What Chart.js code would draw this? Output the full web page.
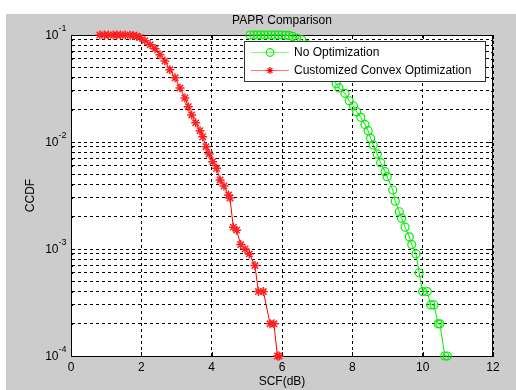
<!DOCTYPE html>
<html>
<head>
<meta charset="utf-8">
<title>PAPR Comparison</title>
<script src="https://cdn.jsdelivr.net/npm/chart.js"></script>
<style>
  html, body { margin: 0; padding: 0; background: #fff; }
  #wrap { width: 516px; height: 390px; }
</style>
</head>
<body>
<div id="wrap"><canvas id="papr" width="516" height="390"></canvas></div>
<script>
// values: x = SCF in dB, y = CCDF
const convexX = [0.82, 0.95, 1.06, 1.2, 1.3, 1.41, 1.54, 1.68, 1.77, 1.87, 1.96,
  2.1, 2.25, 2.39, 2.53, 2.67, 2.81, 2.96, 3.1, 3.24, 3.335, 3.43, 3.545, 3.67,
  3.745, 3.84, 3.93, 4.03, 4.14, 4.24, 4.35, 4.48, 4.52, 4.615, 4.71, 4.825,
  4.95, 5.07, 5.23, 5.33, 5.47, 5.66, 5.77, 5.87, 5.92];
const convexY = [0.1, 0.1, 0.1, 0.1, 0.1, 0.1, 0.0999, 0.0995, 0.099, 0.0975, 0.095,
  0.0885, 0.081, 0.0745, 0.0655, 0.057, 0.0474, 0.0398, 0.032, 0.0258, 0.0214, 0.0179, 0.0151, 0.01276,
  0.0112, 0.00904, 0.00773, 0.00655, 0.00568, 0.00442, 0.00388, 0.0032, 0.003, 0.0016, 0.0015, 0.0011,
  0.001, 0.0009, 0.0007, 0.0004, 0.0004, 0.0002, 0.0002, 0.0001, 0.0001];

// part of this curve sits under the legend box, those points are estimates
const noOptX = [5.09, 5.2, 5.3, 5.4, 5.5, 5.6, 5.7, 5.8, 5.9, 6.0, 6.1, 6.2, 6.3, 6.42, 6.56,
  6.72, 6.86, 7.0, 7.14, 7.28, 7.43, 7.54, 7.62, 7.79, 7.91, 8.03, 8.12, 8.24, 8.36,
  8.45, 8.52, 8.595, 8.71, 8.805, 8.93, 8.99, 9.15, 9.22, 9.335, 9.4, 9.5, 9.62, 9.69,
  9.81, 9.9, 10.0, 10.13, 10.23, 10.32, 10.44, 10.49, 10.63, 10.7];
const noOptY = [0.1, 0.1, 0.1, 0.1, 0.1, 0.1, 0.1, 0.1, 0.1, 0.1, 0.0995, 0.099, 0.097, 0.0937, 0.0903,
  0.081, 0.0745, 0.0655, 0.057, 0.0474, 0.0398, 0.035, 0.032, 0.0285, 0.0243, 0.0217, 0.0192, 0.017, 0.0146,
  0.01276, 0.01083, 0.00938, 0.00773, 0.00641, 0.00528, 0.00474, 0.00356, 0.0028, 0.00223, 0.00194, 0.0016, 0.0013, 0.0011,
  0.0009, 0.0006, 0.0004, 0.0004, 0.0003, 0.0003, 0.0002, 0.0002, 0.0001, 0.0001];

const xTicks = [0, 2, 4, 6, 8, 10, 12];
const yGrid = [0.0001, 0.0002, 0.0003, 0.0004, 0.0005, 0.0006, 0.0007, 0.0008, 0.0009,
  0.001, 0.002, 0.003, 0.004, 0.005, 0.006, 0.007, 0.008, 0.009,
  0.01, 0.02, 0.03, 0.04, 0.05, 0.06, 0.07, 0.08, 0.09, 0.1];
const yMajor = [0.0001, 0.001, 0.01, 0.1];
const yExp = ["-4", "-3", "-2", "-1"];

const titleText = "PAPR Comparison";
const seriesNames = ["No Optimization", "Customized Convex Optimization"];

const FONT = "'Liberation Sans', Arial, sans-serif";
Chart.defaults.font.family = FONT;
Chart.defaults.color = "#000";

const toPoints = (xs, ys) => xs.map((x, i) => ({ x: x, y: ys[i] }));

// grey figure, white axes
const figureBg = {
  id: "figureBg",
  beforeDraw(chart) {
    const { ctx, chartArea: a } = chart;
    ctx.save();
    ctx.fillStyle = "#fff";
    ctx.fillRect(0, 0, chart.width, chart.height);
    ctx.fillStyle = "#cccccc";
    ctx.fillRect(6, 14, chart.width - 6, chart.height - 14);
    ctx.fillStyle = "#fff";
    ctx.fillRect(a.left, a.top, a.right - a.left, a.bottom - a.top);
    ctx.restore();
  }
};

// top/right box lines and inward ticks like matlab
const axesBox = {
  id: "axesBox",
  beforeDatasetsDraw(chart) {
    const { ctx, chartArea: a, scales } = chart;
    ctx.save();
    ctx.strokeStyle = "#000";
    ctx.lineWidth = 1;
    ctx.beginPath();
    ctx.moveTo(a.left, a.top + 0.5);
    ctx.lineTo(a.right, a.top + 0.5);
    ctx.moveTo(a.right - 0.5, a.top);
    ctx.lineTo(a.right - 0.5, a.bottom);
    xTicks.forEach(v => {
      const px = Math.round(scales.x.getPixelForValue(v)) + 0.5;
      ctx.moveTo(px, a.bottom); ctx.lineTo(px, a.bottom - 4);
      ctx.moveTo(px, a.top); ctx.lineTo(px, a.top + 4);
    });
    yGrid.forEach(v => {
      const py = Math.round(scales.y.getPixelForValue(v)) + 0.5;
      const len = yMajor.includes(v) ? 4 : 2;
      ctx.moveTo(a.left, py); ctx.lineTo(a.left + len, py);
      ctx.moveTo(a.right, py); ctx.lineTo(a.right - len, py);
    });
    ctx.stroke();
    ctx.restore();
  }
};

// title, 10^n labels and the legend box inside the axes
const overlay = {
  id: "overlay",
  afterDraw(chart) {
    const { ctx, chartArea: a, scales } = chart;
    ctx.save();
    ctx.fillStyle = "#000";

    ctx.font = "12px " + FONT;
    ctx.textAlign = "center";
    ctx.textBaseline = "middle";
    ctx.fillText(titleText, (a.left + a.right) / 2, 21);

    yMajor.forEach((v, i) => {
      const py = scales.y.getPixelForValue(v);
      ctx.font = "12px " + FONT;
      ctx.textAlign = "right";
      ctx.textBaseline = "middle";
      ctx.fillText("10", 58.5, py + 0.5);
      ctx.font = "9px " + FONT;
      ctx.textAlign = "left";
      ctx.textBaseline = "alphabetic";
      ctx.fillText(yExp[i], 58.5, py - 4);
    });

    // legend
    const bx = 244.5, by = 41.5, bw = 241, bh = 40;
    ctx.fillStyle = "#fff";
    ctx.fillRect(bx, by, bw, bh);
    ctx.strokeStyle = "#333";
    ctx.lineWidth = 1;
    ctx.strokeRect(bx, by, bw, bh);

    const rows = [
      { y: 52.5, line: "#77ff77", mark: "#00ee00", style: "circle" },
      { y: 70.5, line: "#ff7777", mark: "#ff0000", style: "star" }
    ];
    rows.forEach((r, i) => {
      ctx.strokeStyle = r.line;
      ctx.beginPath();
      ctx.moveTo(251, r.y);
      ctx.lineTo(289, r.y);
      ctx.stroke();
      ctx.strokeStyle = r.mark;
      ctx.lineWidth = 1.2;
      ctx.beginPath();
      if (r.style === "circle") {
        ctx.arc(270, r.y, 3.8, 0, Math.PI * 2);
      } else {
        const s = 3.5;
        ctx.moveTo(270 - s, r.y); ctx.lineTo(270 + s, r.y);
        ctx.moveTo(270, r.y - s); ctx.lineTo(270, r.y + s);
        ctx.moveTo(270 - s * 0.7, r.y - s * 0.7); ctx.lineTo(270 + s * 0.7, r.y + s * 0.7);
        ctx.moveTo(270 - s * 0.7, r.y + s * 0.7); ctx.lineTo(270 + s * 0.7, r.y - s * 0.7);
      }
      ctx.stroke();
      ctx.lineWidth = 1;
      ctx.fillStyle = "#000";
      ctx.font = "12px " + FONT;
      ctx.textAlign = "left";
      ctx.textBaseline = "middle";
      ctx.fillText(seriesNames[i], 294, r.y);
    });
    ctx.restore();
  }
};

new Chart(document.getElementById("papr"), {
  type: "scatter",
  data: {
    datasets: [
      {
        label: seriesNames[0],
        data: toPoints(noOptX, noOptY),
        showLine: true,
        borderColor: "#00ee00",
        borderWidth: 1,
        pointStyle: "circle",
        pointRadius: 4,
        pointBorderWidth: 1.2,
        pointBorderColor: "#00ee00",
        pointBackgroundColor: "rgba(0,0,0,0)",
        clip: false
      },
      {
        label: seriesNames[1],
        data: toPoints(convexX, convexY),
        showLine: true,
        borderColor: "#ff0000",
        borderWidth: 1,
        pointStyle: "star",
        pointRadius: 4.5,
        pointBorderWidth: 1.5,
        pointBorderColor: "#ff2020",
        pointBackgroundColor: "#ff0000",
        clip: false
      }
    ]
  },
  options: {
    responsive: false,
    animation: false,
    devicePixelRatio: 1,
    layout: { padding: { left: 0, right: 23, top: 35, bottom: 0 } },
    plugins: {
      legend: { display: false },
      title: { display: false },
      tooltip: { enabled: false }
    },
    scales: {
      x: {
        type: "linear",
        min: 0,
        max: 12,
        afterBuildTicks: s => { s.ticks = xTicks.map(v => ({ value: v })); },
        ticks: { padding: 4, color: "#000", font: { size: 12 }, maxRotation: 0, autoSkip: false },
        grid: { color: "#000", lineWidth: 1, drawTicks: false },
        border: { color: "#000", width: 1, dash: [3, 3] },
        title: { display: true, text: "SCF(dB)", color: "#000", font: { size: 12 }, padding: { top: 0, bottom: 1 } },
        afterFit: s => { s.height = 34; }
      },
      y: {
        type: "logarithmic",
        min: 0.0001,
        max: 0.1,
        afterBuildTicks: s => { s.ticks = yGrid.map(v => ({ value: v })); },
        ticks: { callback: () => "", autoSkip: false },
        grid: { color: "#000", lineWidth: 1, drawTicks: false },
        border: { color: "#000", width: 1, dash: [3, 3] },
        title: { display: true, text: "CCDF", color: "#000", font: { size: 12 }, padding: { top: 23, bottom: 0 } },
        afterFit: s => { s.width = 71; }
      }
    }
  },
  plugins: [figureBg, axesBox, overlay]
});
</script>
</body>
</html>
